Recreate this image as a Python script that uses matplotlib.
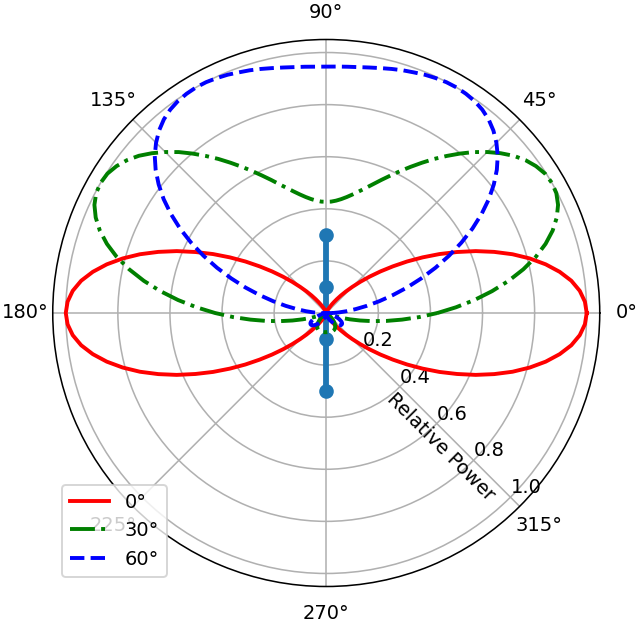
import numpy as np
import matplotlib
matplotlib.use("Agg")
import matplotlib.pyplot as plt

# angles of the samples (degrees), every 2.5 degrees
theta_deg = np.arange(0, 360.1, 2.5)

# relative power, one list per steering angle
power_0 = [1.000, .994, .977, .949, .910, .863, .809, .750, .686, .621, .554, .490, .427, .368, .312, .262, .217, .177, .142,
           .113, .088, .067, .050, .037, .026, .018, .012, .008, .005, .003, .002, .001, .000, .000, .000, .000, .000,
           .000, .000, .000, .000, .001, .002, .003, .005, .008, .012, .018, .026, .037, .050, .067, .088, .113, .142,
           .177, .217, .262, .312, .368, .427, .490, .554, .621, .686, .750, .809, .863, .910, .949, .977, .994, 1.000,
           .994, .977, .949, .910, .863, .809, .750, .686, .621, .554, .490, .427, .368, .312, .262, .217, .177, .142,
           .113, .088, .067, .050, .037, .026, .018, .012, .008, .005, .003, .002, .001, .000, .000, .000, .000, .000,
           .000, .000, .000, .000, .001, .002, .003, .005, .008, .012, .018, .026, .037, .050, .067, .088, .113, .142,
           .177, .217, .262, .312, .368, .427, .490, .554, .621, .686, .750, .809, .863, .910, .949, .977, .994, 1.000]
power_30 = [.427, .498, .571, .642, .711, .775, .833, .883, .925, .958, .982, .996, 1.000, .996, .983, .964, .939, .908, .874,
            .838, .799, .760, .722, .684, .648, .614, .582, .553, .526, .503, .483, .466, .452, .441, .433, .428, .427,
            .428, .433, .441, .452, .466, .483, .503, .526, .553, .582, .614, .648, .684, .722, .760, .799, .838, .874,
            .908, .939, .964, .983, .996, 1.000, .996, .982, .958, .925, .883, .833, .775, .711, .642, .571, .498, .427,
            .358, .292, .233, .180, .133, .094, .062, .038, .020, .008, .002, .000, .002, .006, .012, .019, .027, .035,
            .042, .049, .055, .060, .064, .068, .070, .072, .073, .074, .074, .074, .074, .074, .074, .074, .074, .073,
            .074, .074, .074, .074, .074, .074, .074, .074, .073, .072, .070, .068, .064, .060, .055, .049, .042, .035,
            .027, .019, .012, .006, .002, .000, .002, .008, .020, .038, .062, .094, .133, .180, .233, .292, .358, .427]
power_60 = [.026, .048, .078, .114, .158, .208, .264, .325, .388, .454, .520, .585, .648, .707, .762, .811, .855, .893, .924,
            .950, .970, .984, .993, .998, 1.000, .999, .995, .990, .983, .977, .970, .963, .957, .952, .949, .947, .946,
            .947, .949, .952, .957, .963, .970, .977, .983, .990, .995, .999, 1.000, .998, .993, .984, .970, .950, .924,
            .893, .855, .811, .762, .707, .648, .585, .520, .454, .388, .325, .264, .208, .158, .114, .078, .048, .026,
            .011, .003, .000, .002, .007, .015, .025, .035, .045, .054, .061, .068, .072, .074, .074, .073, .070, .067,
            .062, .057, .052, .046, .041, .036, .032, .028, .024, .021, .018, .016, .014, .013, .012, .011, .011, .011,
            .011, .011, .012, .013, .014, .016, .018, .021, .024, .028, .032, .036, .041, .046, .052, .057, .062, .067,
            .070, .073, .074, .074, .072, .068, .061, .054, .045, .035, .025, .015, .007, .002, .000, .003, .011, .026]
labels = ['0°', '30°', '60°']

# element positions along the vertical axis
elem_y = np.array([0.3, 0.1, -0.1, -0.3])

fig = plt.figure(figsize=(640 / 140, 623 / 140), dpi=140)
ax = fig.add_axes([0.0824, 0.0586, 0.8547, 0.878], projection='polar')

# elements: line through the centre, then the markers
elem_t = np.where(elem_y > 0, np.pi / 2, 3 * np.pi / 2)
elem_r = np.abs(elem_y)
ax.plot([np.pi / 2, np.pi / 2, 3 * np.pi / 2, 3 * np.pi / 2],
        [elem_r.max(), 0, 0, elem_r.max()], '-', color='C0', lw=3)
ax.plot(elem_t, elem_r, 'o', color='C0', ms=6.5)

th = np.radians(theta_deg)
ax.plot(th, power_0, 'r-', lw=2, label=labels[0])
ax.plot(th, power_30, 'g-.', lw=2, label=labels[1])
ax.plot(th, power_60, 'b--', lw=2, label=labels[2])

ax.set_ylim(0, 1.05)
ax.set_rticks([0.2, 0.4, 0.6, 0.8, 1.0])
ax.set_rlabel_position(-45)
ax.text(np.radians(-49.5), 0.675, 'Relative Power', rotation=-45,
        ha='center', va='center', fontsize=10)
ax.legend(loc='lower left')

fig.savefig('out.png', dpi=140)
